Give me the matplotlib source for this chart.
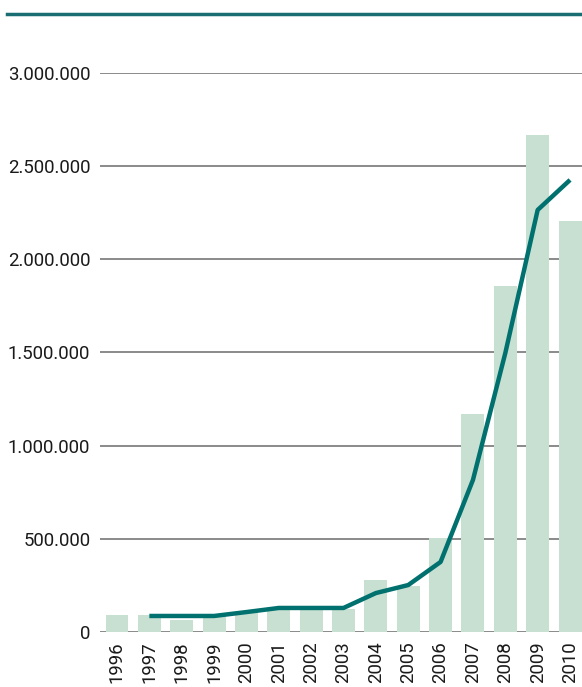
import numpy as np
import matplotlib.pyplot as plt
from matplotlib.lines import Line2D
from matplotlib.ticker import FuncFormatter

years = [str(y) for y in range(1996, 2011)]
bar_values = [91000, 91000, 64000, 90000, 107000, 134000, 134000, 123000,
              279000, 247000, 504000, 1170000, 1857000, 2667000, 2206000]
line_years = years[1:]
line_values = [86000, 86000, 86000, 107000, 129000, 129000, 129000,
               209000, 252000, 376000, 816000, 1497000, 2265000, 2426000]
y_ticks = [0, 500000, 1000000, 1500000, 2000000, 2500000, 3000000]

bar_color = "#c8e0d1"
teal = "#00716f"
grid_color = "#8a8a8a"

plt.rcParams["font.family"] = ["Roboto", "DejaVu Sans"]

fig = plt.figure(figsize=(5.82, 6.87), dpi=100)
ax = fig.add_axes([100 / 582, 55 / 687, 482 / 582, 559 / 687])

x_pos = np.arange(len(years))
line_pos = np.arange(1, len(years))

for y in y_ticks:
    ax.axhline(y, color=grid_color, lw=1.4, zorder=1)
ax.bar(x_pos, bar_values, width=0.71, color=bar_color, zorder=2)
ax.plot(line_pos, line_values, color=teal, lw=3.2, zorder=3, solid_capstyle="butt")

ax.set_xlim(-0.525, 14.37)
ax.set_ylim(0, 3000000)
ax.set_yticks(y_ticks)
ax.yaxis.set_major_formatter(FuncFormatter(lambda v, p: f"{int(v):,}".replace(",", ".")))
ax.set_xticks(x_pos)
ax.set_xticklabels(years, rotation=90)
ax.tick_params(axis="both", length=0, labelsize=13.4, colors="#1a1a1a")
ax.tick_params(axis="y", pad=7)
ax.tick_params(axis="x", pad=7)
for s in ax.spines.values():
    s.set_visible(False)

# rule across the top of the figure
fig.add_artist(Line2D([7 / 582, 1.0], [1 - 14 / 687, 1 - 14 / 687],
                      color="#1a6e72", lw=2.5, transform=fig.transFigure))

fig.savefig("out.png", dpi=100)
